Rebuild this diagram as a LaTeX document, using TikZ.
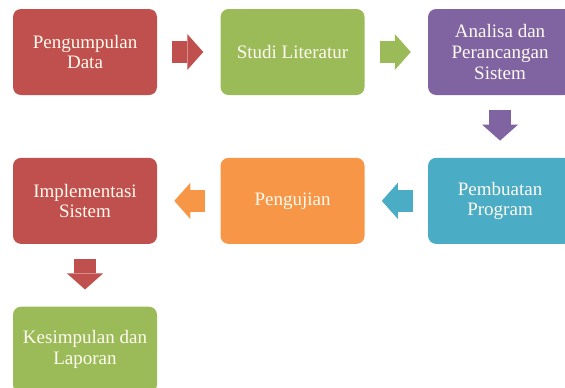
\documentclass[tikz,border=0pt]{standalone}
\usepackage{fontspec}
\setmainfont{Liberation Serif}
\usepackage{tikz}
\usepackage{xcolor}
\usetikzlibrary{arrows.meta,positioning}
\definecolor{flowred}{HTML}{C0504D}
\definecolor{flowgreen}{HTML}{9BBB59}
\definecolor{flowpurple}{HTML}{8064A2}
\definecolor{flowaqua}{HTML}{4BACC6}
\definecolor{floworange}{HTML}{F79646}
\definecolor{flowtext}{HTML}{FFFAF0}
\tikzset{
  stepbox/.style={rounded corners=6pt, text=flowtext, align=center, inner sep=3pt, minimum width=108pt, minimum height=64.5pt, font=\fontsize{14.25pt}{15.5pt}\selectfont},
  blockarrow/.style={-{Triangle[length=12pt,width=27pt,line width=0pt]}, line width=16.5pt, shorten <=11.25pt, shorten >=12.75pt}
}

\begin{document}
\begin{tikzpicture}[x=0.75pt,y=0.75pt, node distance=46.75pt and 47.25pt]
  \useasboundingbox (0,0) rectangle (565,-387);
  \clip (0,0) rectangle (565,-387);
  % first row
  \node[stepbox, fill=flowred] (kumpul) at (85,-52) {Pengumpulan\\Data};
  \node[stepbox, fill=flowgreen, right=of kumpul] (studi) {Studi Literatur};
  \node[stepbox, fill=flowpurple, right=of studi] (analisa) {Analisa dan\\Perancangan\\Sistem};
  % second row
  \node[stepbox, fill=flowaqua, below=of analisa] (buat) {Pembuatan\\Program};
  \node[stepbox, fill=floworange, left=of buat] (uji) {Pengujian};
  \node[stepbox, fill=flowred, left=of uji] (impl) {Implementasi\\Sistem};
  % third row
  \node[stepbox, fill=flowgreen, below=of impl] (simpul) {Kesimpulan dan\\Laporan};
  % block arrows
  \draw[blockarrow, flowred] (kumpul) -- (studi);
  \draw[blockarrow, flowgreen] (studi) -- (analisa);
  \draw[blockarrow, flowpurple] (analisa) -- (buat);
  \draw[blockarrow, flowaqua] (buat) -- (uji);
  \draw[blockarrow, floworange] (uji) -- (impl);
  \draw[blockarrow, flowred] (impl) -- (simpul);
\end{tikzpicture}
\end{document}
